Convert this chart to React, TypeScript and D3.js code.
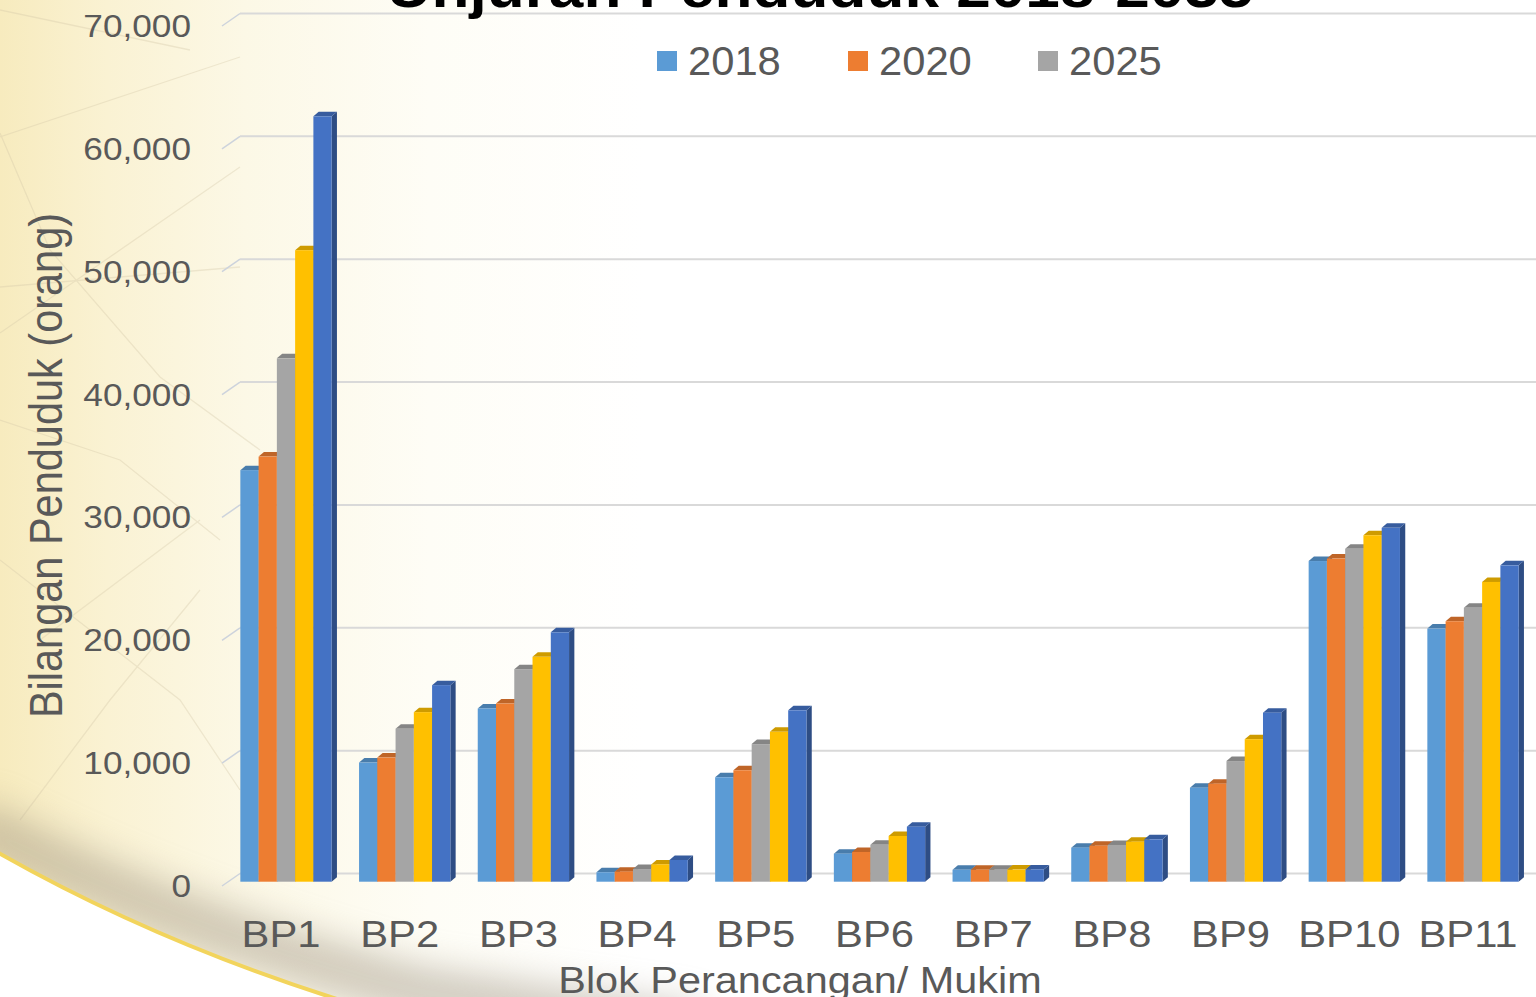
import React from "react";
import * as d3 from "d3";

const categories = ["BP1", "BP2", "BP3", "BP4", "BP5", "BP6", "BP7", "BP8", "BP9", "BP10", "BP11"];
const years = ["2018", "2020", "2025", "2030", "2035"];
const v2018 = [33500, 9700, 14100, 770, 8500, 2280, 970, 2770, 7650, 26100, 20600];
const v2020 = [34600, 10100, 14500, 820, 9070, 2420, 975, 2930, 7980, 26300, 21200];
const v2025 = [42600, 12450, 17300, 1030, 11200, 3000, 980, 2990, 9820, 27100, 22300];
const v2030 = [51400, 13800, 18300, 1410, 12200, 3720, 990, 3260, 11600, 28200, 24400];
const v2035 = [62300, 16000, 20300, 1770, 13950, 4480, 1000, 3450, 13760, 28800, 25750];
const seriesValues = [v2018, v2020, v2025, v2030, v2035];
const colors = ["#5B9BD5", "#ED7D31", "#A5A5A5", "#FFC000", "#4472C4"];
const yTicks = [0, 10000, 20000, 30000, 40000, 50000, 60000, 70000];
const legendYears = ["2018", "2020", "2025"];

const W = 1536;
const H = 997;
const FONT = "'Liberation Sans', Arial, Helvetica, sans-serif";
const TXT = "#595959";

export default function App() {
  const x0 = d3
    .scaleBand<string>()
    .domain(categories)
    .range([226.65, 1532.35])
    .paddingInner(0.2308)
    .paddingOuter(0.1154);
  const x1 = d3.scaleBand<string>().domain(years).range([0, x0.bandwidth()]);
  const yFront = d3.scaleLinear().domain([0, 70000]).range([881.7, 21.7]);
  const yGrid = d3.scaleLinear().domain([0, 70000]).range([873.5, 13.5]);
  const fmt = d3.format(",");
  const dx = 5.3;
  const dy = 4.5;
  const bw = x1.bandwidth();

  const bars: React.ReactNode[] = [];
  categories.forEach((cat, ci) => {
    years.forEach((yr, si) => {
      const v = seriesValues[si][ci];
      const x = (x0(cat) as number) + (x1(yr) as number);
      const yt = yFront(v);
      const yb = yFront(0);
      const c = colors[si];
      const top = d3.color(c)!.darker(0.6).formatHex();
      const side = d3.color(c)!.darker(1.1).formatHex();
      bars.push(
        <g key={cat + yr}>
          <polygon
            points={`${x + bw},${yt} ${x + bw + dx},${yt - dy} ${x + bw + dx},${yb - dy} ${x + bw},${yb}`}
            fill={side}
          />
          <polygon
            points={`${x},${yt} ${x + dx},${yt - dy} ${x + bw + dx},${yt - dy} ${x + bw},${yt}`}
            fill={top}
          />
          <rect x={x} y={yt} width={bw} height={yb - yt} fill={c} />
        </g>
      );
    });
  });

  const decoLines = [
    "M0,10 L190,50",
    "M0,137 L240,57",
    "M0,133 L50,250 L160,377 L260,450",
    "M0,333 L240,167",
    "M0,287 L240,267",
    "M0,560 L180,700 L240,790",
    "M40,640 L200,520",
    "M0,420 L120,460 L220,540",
    "M20,820 L110,700 L200,590",
  ];

  const legendX = [657, 848, 1038];

  return (
    <svg
      width={W}
      height={H}
      viewBox={`0 0 ${W} ${H}`}
      style={{ position: "fixed", left: 0, top: 0, display: "block" }}
    >
      <defs>
        <linearGradient id="cream" x1="0" y1="0" x2="1" y2="0">
          <stop offset="0" stopColor="#F7EBBE" />
          <stop offset="0.07" stopColor="#FAF2D3" />
          <stop offset="0.16" stopColor="#FCF8E6" />
          <stop offset="0.28" stopColor="#FEFDF6" />
          <stop offset="0.42" stopColor="#FFFFFF" />
          <stop offset="1" stopColor="#FFFFFF" />
        </linearGradient>
        <filter id="blur" x="-50%" y="-50%" width="200%" height="200%">
          <feGaussianBlur stdDeviation="18" />
        </filter>
        <clipPath id="aboveArc">
          <path d="M-10,0 L-10,848 Q150,940 340,1000 L1536,1000 L1536,0 Z" />
        </clipPath>
      </defs>
      <rect x={0} y={0} width={W} height={H} fill="url(#cream)" />
      <g stroke="#D3C7A8" strokeWidth={1.3} fill="none" opacity={0.35}>
        {decoLines.map((d, i) => (
          <path key={i} d={d} />
        ))}
      </g>
      <g clipPath="url(#aboveArc)">
        <path
          d="M-30,830 Q170,935 420,1000 L700,1040"
          stroke="#A39886"
          strokeWidth={50}
          fill="none"
          opacity={0.5}
          filter="url(#blur)"
          transform="translate(0,-8)"
        />
      </g>
      <path d="M-10,848 Q150,940 340,1000 L-10,1000 Z" fill="#FFFFFF" />
      <path d="M-10,848 Q150,940 340,1000" stroke="#F2D45C" strokeWidth={4} fill="none" />

      {/* gridlines */}
      {yTicks.map((t) => (
        <g key={t}>
          <line x1={222} y1={yGrid(t) + 12.5} x2={240} y2={yGrid(t)} stroke="#CDD3DC" strokeWidth={1.5} />
          <line x1={240} y1={yGrid(t)} x2={W} y2={yGrid(t)} stroke="#D9D9D9" strokeWidth={2} />
        </g>
      ))}

      {/* tick labels */}
      {yTicks.map((t) => (
        <text
          key={"l" + t}
          transform={`translate(191,${yGrid(t) + 23.5}) scale(1.1,1)`}
          textAnchor="end"
          fontFamily={FONT}
          fontSize={32}
          fill={TXT}
        >
          {fmt(t)}
        </text>
      ))}

      {bars}

      {/* category labels */}
      {categories.map((c) => (
        <text
          key={"c" + c}
          transform={`translate(${(x0(c) as number) + x0.bandwidth() / 2 - 5},947) scale(1.13,1)`}
          textAnchor="middle"
          fontFamily={FONT}
          fontSize={37}
          fill={TXT}
        >
          {c}
        </text>
      ))}

      {/* axis titles */}
      <text
        transform="translate(800,993) scale(1.12,1)"
        textAnchor="middle"
        fontFamily={FONT}
        fontSize={37}
        fill={TXT}
      >
        Blok Perancangan/ Mukim
      </text>
      <text
        transform="translate(62,465.5) rotate(-90) scale(1,1.11)"
        textAnchor="middle"
        fontFamily={FONT}
        fontSize={41.5}
        fill={TXT}
      >
        Bilangan Penduduk (orang)
      </text>

      {/* title */}
      <text
        transform="translate(820,7) scale(1.13,1)"
        textAnchor="middle"
        fontFamily={FONT}
        fontSize={55}
        fontWeight="bold"
        fill="#000000"
      >
        Unjuran Penduduk 2018-2035
      </text>

      {/* legend */}
      {legendYears.map((yr, i) => {
        const lx = legendX[i];
        return (
          <g key={"lg" + yr}>
            <rect x={lx} y={51} width={20} height={20} fill={colors[years.indexOf(yr)]} />
            <text
              transform={`translate(${lx + 31},75) scale(1.03,1)`}
              fontFamily={FONT}
              fontSize={40.5}
              fill={TXT}
            >
              {yr}
            </text>
          </g>
        );
      })}
    </svg>
  );
}
